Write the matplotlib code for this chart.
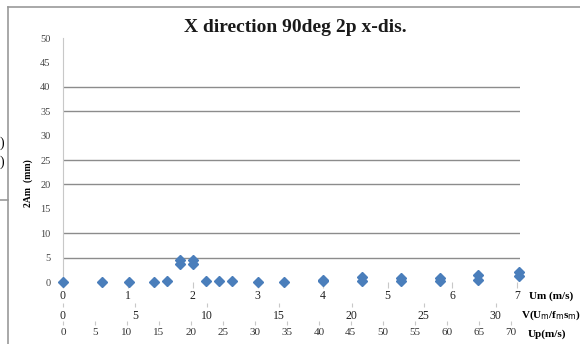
import matplotlib.pyplot as plt
from matplotlib.lines import Line2D

plt.rcParams['font.family'] = ['Liberation Serif', 'DejaVu Serif']

# data (x in Um m/s, y = 2Am mm)
um = [0, 0.6, 1.02, 1.4, 1.6, 1.8, 1.8, 2.0, 2.0, 2.2, 2.4, 2.6, 3.0, 3.4,
      4.0, 4.0, 4.6, 4.6, 5.2, 5.2, 5.8, 5.8, 6.4, 6.4, 7.02, 7.02]
amp = [0.05, 0.05, 0.1, 0.1, 0.25, 3.6, 4.6, 3.6, 4.6, 0.25, 0.2, 0.25, 0.1, 0.1,
       0.2, 0.5, 0.3, 1.0, 0.3, 0.9, 0.2, 0.8, 0.4, 1.4, 1.2, 2.0]

um_ticks = [0, 1, 2, 3, 4, 5, 6, 7]
v_ticks = [0, 5, 10, 15, 20, 25, 30]
up_ticks = [0, 5, 10, 15, 20, 25, 30, 35, 40, 45, 50, 55, 60, 65, 70]
y_ticks = [0, 5, 10, 15, 20, 25, 30, 35, 40, 45, 50]
grid_levels = [5, 10, 20, 25, 35, 40]

V_FACTOR = 4.5    # V = Um * 4.5
UP_FACTOR = 10.15  # Up = Um * 10.15

W, H = 580, 344
fig = plt.figure(figsize=(W / 100, H / 100), dpi=100)
ax = fig.add_axes([63 / W, 62 / H, 457 / W, 244 / H])

ax.set_xlim(0, 7.04)
ax.set_ylim(0, 50)

for g in grid_levels:
    ax.axhline(g, color='#8c8c8c', lw=1.0, zorder=1)

ax.plot(um, amp, 'D', color='#4a7ebb', markersize=4.6, clip_on=False, zorder=3)

for s in ['top', 'right', 'bottom']:
    ax.spines[s].set_visible(False)
ax.spines['left'].set_color('#c8c8c8')
ax.spines['left'].set_linewidth(0.8)

ax.set_yticks(y_ticks)
ax.tick_params(axis='y', length=0, pad=9, labelsize=7.5, colors='#444444')
ax.set_xticks(um_ticks)
ax.tick_params(axis='x', length=4, width=0.8, color='#c8c8c8', pad=2,
               labelsize=8.5, labelcolor='#222222')

sec_v = ax.secondary_xaxis(-21 / 244, functions=(lambda u: u * V_FACTOR,
                                                 lambda v: v / V_FACTOR))
sec_v.set_xticks(v_ticks)
sec_v.spines['bottom'].set_visible(False)
sec_v.tick_params(length=3, width=0.8, color='#c8c8c8', pad=2,
                  labelsize=8.5, labelcolor='#222222')

sec_up = ax.secondary_xaxis(-39 / 244, functions=(lambda u: u * UP_FACTOR,
                                                  lambda p: p / UP_FACTOR))
sec_up.set_xticks(up_ticks)
sec_up.spines['bottom'].set_visible(False)
sec_up.tick_params(length=3, width=0.8, color='#c8c8c8', pad=2,
                   labelsize=8, labelcolor='#333333')

fig.text(295 / W, 1 - 27 / H, 'X direction 90deg 2p x-dis.', ha='center',
         va='center', fontsize=14, fontweight='bold', color='#1a1a1a')
fig.text(28 / W, 1 - 183 / H, '2Am  (mm)', rotation=90, ha='center',
         va='center', fontsize=7, fontweight='bold')
fig.text(529 / W, 1 - 296 / H, 'Um (m/s)', ha='left', va='center',
         fontsize=8, fontweight='bold')
fig.text(521 / W, 1 - 315 / H, r'V(U$_\mathrm{m}$/f$_\mathrm{m}$s$_\mathrm{m}$)',
         ha='left', va='center', fontsize=8, fontweight='bold')
fig.text(528 / W, 1 - 334 / H, 'Up(m/s)', ha='left', va='center',
         fontsize=8, fontweight='bold')

# chart frame and neighbouring box edge
fig.add_artist(Line2D([8 / W, 8 / W], [0, 1 - 7 / H], color='#999999', lw=1.2))
fig.add_artist(Line2D([8 / W, 1], [1 - 7 / H, 1 - 7 / H], color='#999999', lw=1.2))
fig.add_artist(Line2D([0, 8 / W], [1 - 200 / H, 1 - 200 / H], color='#999999', lw=1.2))
fig.text(4 / W, 1 - 143 / H, ')', ha='right', va='center', fontsize=10)
fig.text(4 / W, 1 - 162 / H, ')', ha='right', va='center', fontsize=10)

fig.savefig('out.png', dpi=100)
